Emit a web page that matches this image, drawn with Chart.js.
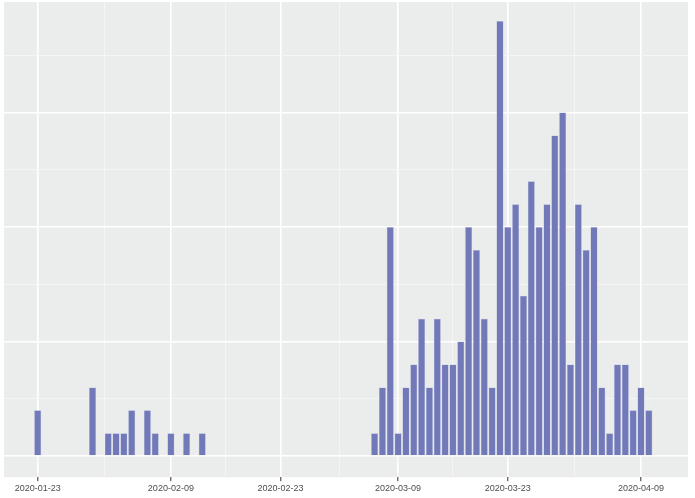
<!DOCTYPE html>
<html>
<head>
<meta charset="utf-8">
<script src="https://cdn.jsdelivr.net/npm/chart.js@4"></script>
<style>
  html, body { margin: 0; padding: 0; background: #fff; }
  #wrap { width: 695px; height: 498px; }
</style>
</head>
<body>
<div id="wrap"><canvas id="casesChart"></canvas></div>
<script>
// one bar per day
const dates = [
  '2020-01-23','2020-01-24','2020-01-25','2020-01-26','2020-01-27','2020-01-28','2020-01-29','2020-01-30',
  '2020-01-31','2020-02-01','2020-02-02','2020-02-03','2020-02-04','2020-02-05','2020-02-06','2020-02-07',
  '2020-02-08','2020-02-09','2020-02-10','2020-02-11','2020-02-12','2020-02-13','2020-02-14','2020-02-15',
  '2020-02-16','2020-02-17','2020-02-18','2020-02-19','2020-02-20','2020-02-21','2020-02-22','2020-02-23',
  '2020-02-24','2020-02-25','2020-02-26','2020-02-27','2020-02-28','2020-02-29','2020-03-01','2020-03-02',
  '2020-03-03','2020-03-04','2020-03-05','2020-03-06','2020-03-07','2020-03-08','2020-03-09','2020-03-10',
  '2020-03-11','2020-03-12','2020-03-13','2020-03-14','2020-03-15','2020-03-16','2020-03-17','2020-03-18',
  '2020-03-19','2020-03-20','2020-03-21','2020-03-22','2020-03-23','2020-03-24','2020-03-25','2020-03-26',
  '2020-03-27','2020-03-28','2020-03-29','2020-03-30','2020-03-31','2020-04-01','2020-04-02','2020-04-03',
  '2020-04-04','2020-04-05','2020-04-06','2020-04-07','2020-04-08','2020-04-09','2020-04-10'
];

const cases = [
  2, 0, 0, 0, 0, 0, 0, 3,
  0, 1, 1, 1, 2, 0, 2, 1,
  0, 1, 0, 1, 0, 1, 0, 0,
  0, 0, 0, 0, 0, 0, 0, 0,
  0, 0, 0, 0, 0, 0, 0, 0,
  0, 0, 0, 1, 3, 10, 1, 3,
  4, 6, 3, 6, 4, 4, 5, 10,
  9, 6, 3, 19, 10, 11, 7, 12,
  10, 11, 14, 15, 4, 11, 9, 10,
  3, 1, 4, 4, 2, 3, 2
];

const tickLabels = ['2020-01-23', '2020-02-09', '2020-02-23', '2020-03-09', '2020-03-23', '2020-04-09'];
const yMajor = [0, 5, 10, 15];
const yMinor = [2.5, 7.5, 12.5, 17.5];

const xMajor = tickLabels.map(d => dates.indexOf(d));
const xMinor = xMajor.slice(1).map((v, i) => (v + xMajor[i]) / 2);

const panelBg = {
  id: 'panelBg',
  beforeDraw(chart) {
    const { ctx, chartArea: a } = chart;
    ctx.save();
    ctx.fillStyle = '#ebecec';
    ctx.fillRect(a.left, a.top, a.right - a.left, a.bottom - a.top);
    ctx.restore();
  }
};

function setTicks(major, minor) {
  return scale => {
    scale.ticks = major.map(v => ({ value: v, major: true }))
      .concat(minor.map(v => ({ value: v, major: false })))
      .sort((a, b) => a.value - b.value);
  };
}

const ctx = document.getElementById('casesChart').getContext('2d');
new Chart(ctx, {
  type: 'bar',
  data: {
    datasets: [{
      data: cases.map((c, i) => ({ x: i, y: c })),
      backgroundColor: '#7179b9',
      borderColor: '#b9bde0',
      borderWidth: c => (c.raw && c.raw.y > 0 ? 0.5 : 0),
      borderSkipped: 'start',
      barPercentage: 0.9,
      categoryPercentage: 1.0
    }]
  },
  options: {
    responsive: true,
    maintainAspectRatio: false,
    animation: false,
    layout: { padding: { left: 4, right: 7, top: 2, bottom: 2 } },
    plugins: {
      legend: { display: false },
      tooltip: { enabled: false }
    },
    scales: {
      x: {
        type: 'linear',
        min: -4.3,
        max: 83.0,
        offset: false,
        afterBuildTicks: setTicks(xMajor, xMinor),
        border: { display: false },
        grid: {
          offset: false,
          color: c => (c.tick && c.tick.major ? '#ffffff' : '#f6f7f6'),
          lineWidth: c => (c.tick && c.tick.major ? 1.6 : 0.8),
          tickColor: c => (c.tick && c.tick.major ? '#333333' : 'rgba(0,0,0,0)'),
          tickLength: 4,
          tickWidth: 1
        },
        ticks: {
          autoSkip: false,
          maxRotation: 0,
          padding: 2,
          color: '#4d4d4d',
          font: { family: 'Liberation Sans', size: 9 },
          callback: v => (xMajor.includes(v) ? dates[v] : '')
        }
      },
      y: {
        min: -0.92,
        max: 19.83,
        afterBuildTicks: setTicks(yMajor, yMinor),
        border: { display: false },
        grid: {
          drawTicks: false,
          color: c => (c.tick && c.tick.major ? '#ffffff' : '#f6f7f6'),
          lineWidth: c => (c.tick && c.tick.major ? 1.6 : 0.8)
        },
        ticks: { display: false }
      }
    }
  },
  plugins: [panelBg]
});
</script>
</body>
</html>
